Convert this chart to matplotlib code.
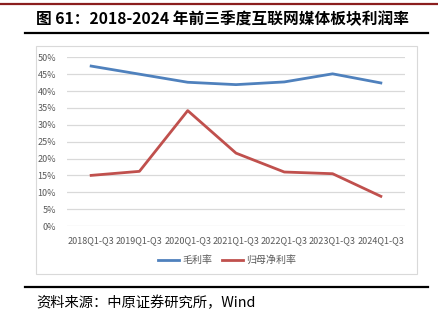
import numpy as np
import matplotlib.pyplot as plt
from matplotlib.lines import Line2D
from matplotlib.patches import Rectangle

plt.rcParams['font.family'] = ['Noto Sans CJK SC', 'DejaVu Sans']

periods = ['2018Q1-Q3', '2019Q1-Q3', '2020Q1-Q3', '2021Q1-Q3',
           '2022Q1-Q3', '2023Q1-Q3', '2024Q1-Q3']
gross_margin = [47.4, 45.0, 42.6, 41.9, 42.7, 45.1, 42.4]
net_margin = [15.0, 16.2, 34.2, 21.6, 16.0, 15.5, 8.8]
yticks = [0, 5, 10, 15, 20, 25, 30, 35, 40, 45, 50]

W, H = 438, 332
fig = plt.figure(figsize=(W / 100, H / 100), dpi=100)

# header / footer rules
fig.add_artist(Line2D([0, 1], [1 - 4 / H, 1 - 4 / H], color='#8B1E1E', lw=1.6))
fig.add_artist(Line2D([25 / W, 428 / W], [1 - 33 / H, 1 - 33 / H], color='black', lw=1.6))
fig.add_artist(Line2D([25 / W, 428 / W], [1 - 287 / H, 1 - 287 / H], color='black', lw=1.6))

fig.text(36 / W, 1 - 19 / H, '图 61：2018-2024 年前三季度互联网媒体板块利润率',
         fontsize=11.3, fontweight='bold', va='center', ha='left')
fig.text(36 / W, 1 - 303 / H, '资料来源：中原证券研究所，Wind',
         fontsize=10.3, va='center', ha='left')

# chart frame
fig.add_artist(Rectangle((36 / W, 1 - 274 / H), (417 - 36) / W, (274 - 46) / H,
                         transform=fig.transFigure, fill=False,
                         edgecolor='#D9D9D9', lw=0.8))

ax = fig.add_axes([67 / W, 1 - 226 / H, (405 - 67) / W, (226 - 57.3) / H])
x = np.arange(len(periods))
l1, = ax.plot(x, gross_margin, color='#4F81BD', lw=2.0, label='毛利率')
l2, = ax.plot(x, net_margin, color='#C0504D', lw=2.0, label='归母净利率')

ax.set_xlim(-0.5, len(periods) - 0.5)
ax.set_ylim(0, 50)
ax.set_yticks(yticks)
ax.set_yticklabels([f'{v}%' for v in yticks])
ax.set_xticks(x)
ax.set_xticklabels(periods)
ax.tick_params(length=0, labelsize=6.5, labelcolor='#595959')
ax.tick_params(axis='y', pad=8)
ax.tick_params(axis='x', pad=7)
ax.grid(axis='y', color='#D9D9D9', lw=0.9)
ax.set_axisbelow(True)
for s in ax.spines.values():
    s.set_visible(False)

fig.legend(handles=[l1, l2], loc='center', bbox_to_anchor=(227 / W, 1 - 260 / H),
           ncol=2, frameon=False, fontsize=7.2, labelcolor='#595959',
           handlelength=2.1, handletextpad=0.3, columnspacing=1.0)

fig.savefig('out.png', dpi=100)
